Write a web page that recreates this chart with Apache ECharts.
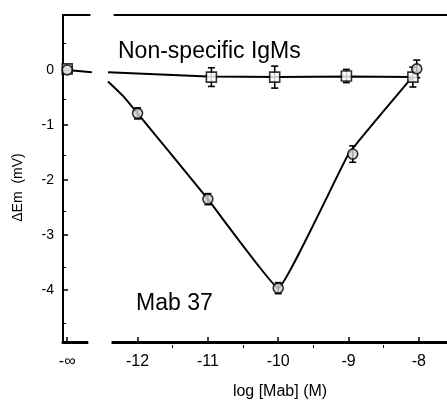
<!DOCTYPE html>
<html>
<head>
<meta charset="utf-8">
<script src="https://cdn.jsdelivr.net/npm/echarts@6/dist/echarts.min.js"></script>
<style>
  html, body { margin: 0; background: #fff; }
  #chart { width: 447px; height: 405px; }
</style>
</head>
<body>
<div id="chart"></div>
<script>
// -13 stands in for the "-∞" (no antibody) column
const NEG_INF = -13;

const xTicks = [-13, -12, -11, -10, -9, -8];
const xMinorTicks = [-11.5, -10.5, -9.5, -8.5];
const yTicks = [0, -1, -2, -3, -4];
const yMinorTicks = [0.5, -0.5, -1.5, -2.5, -3.5, -4.5];

// Mab 37 (circles)
const mabX = [-13, -12, -11, -10, -8.94, -8.03];
const mabY = [0, -0.79, -2.35, -3.97, -1.53, 0.02];
const mabErr = [0, 0.1, 0.1, 0.1, 0.15, 0.16];

// Non-specific IgMs (squares)
const nsX = [-13, -10.95, -10.05, -9.03, -8.085];
const nsY = [0.02, -0.13, -0.13, -0.11, -0.13];
const nsErr = [0, 0.17, 0.2, 0.12, 0.18];

// fitted curves as drawn in the figure (null = axis break)
const mabFitX = [-13, -12.65, null, -12.42, -12.2, -12, -11, -10, -9, -8.1];
const mabFitY = [0, -0.04, null, -0.21, -0.48, -0.79, -2.35, -3.97, -1.53, -0.14];
const nsFitX = [-12.42, -11, -10, -9, -8.1];
const nsFitY = [-0.04, -0.12, -0.13, -0.12, -0.13];

const FONT = "'Liberation Sans', Arial, Helvetica, sans-serif";

const pairs = (xs, ys) => xs.map((x, i) => (x === null ? '-' : [x, ys[i]]));
const triples = (xs, ys, es) =>
  xs.map((x, i) => [x, ys[i], es[i]]).filter((d) => d[2] > 0);

// vertical error bar with caps
function errRender(params, api) {
  const x = api.value(0), y = api.value(1), e = api.value(2);
  const top = api.coord([x, y + e]);
  const bot = api.coord([x, y - e]);
  const w = 3.5;
  const style = { stroke: '#000', lineWidth: 1.6 };
  return {
    type: 'group',
    children: [
      { type: 'line', shape: { x1: top[0], y1: top[1], x2: bot[0], y2: bot[1] }, style },
      { type: 'line', shape: { x1: top[0] - w, y1: top[1], x2: top[0] + w, y2: top[1] }, style },
      { type: 'line', shape: { x1: bot[0] - w, y1: bot[1], x2: bot[0] + w, y2: bot[1] }, style },
    ],
  };
}

const chart = echarts.init(document.getElementById('chart'));

const X_MIN = -13.06, X_MAX = -7.6;
const Y_MIN = -4.95, Y_MAX = 1;
const GRID = { left: 63, right: 0, top: 15, bottom: 57 };

chart.setOption({
  animation: false,
  backgroundColor: '#fff',
  // grid 1 sits exactly on grid 0 and only carries the minor ticks
  grid: [GRID, GRID],
  xAxis: [
    {
      type: 'value', gridIndex: 0, position: 'bottom', min: X_MIN, max: X_MAX,
      axisLine: { onZero: false, lineStyle: { color: '#000', width: 3 } },
      axisTick: { inside: true, length: 5, customValues: xTicks, lineStyle: { color: '#000', width: 1.5 } },
      axisLabel: {
        customValues: xTicks, margin: 12, color: '#000', fontSize: 16, fontFamily: FONT,
        formatter: (v) => (v === NEG_INF ? '-∞' : String(v)),
      },
      splitLine: { show: false },
      name: 'log [Mab] (M)', nameLocation: 'middle', nameGap: 42,
      nameTextStyle: { color: '#000', fontSize: 16, fontFamily: FONT, padding: [0, 0, 0, 50] },
    },
    {
      type: 'value', gridIndex: 0, position: 'top', min: X_MIN, max: X_MAX,
      axisLine: { onZero: false, lineStyle: { color: '#000', width: 2 } },
      axisTick: { show: false },
      axisLabel: { show: false },
      splitLine: { show: false },
    },
    {
      type: 'value', gridIndex: 1, position: 'bottom', min: X_MIN, max: X_MAX,
      axisLine: { show: false, onZero: false },
      axisTick: { inside: true, length: 3, customValues: xMinorTicks, lineStyle: { color: '#000', width: 1 } },
      axisLabel: { show: false },
      splitLine: { show: false },
    },
  ],
  yAxis: [
    {
      type: 'value', gridIndex: 0, position: 'left', min: Y_MIN, max: Y_MAX,
      axisLine: { show: true, onZero: false, lineStyle: { color: '#000', width: 2 } },
      axisTick: { show: true, inside: true, length: 5, customValues: yTicks, lineStyle: { color: '#000', width: 1.5 } },
      axisLabel: { customValues: yTicks, margin: 9, color: '#000', fontSize: 14, fontFamily: FONT },
      splitLine: { show: false },
      name: 'ΔEm  (mV)', nameLocation: 'middle', nameGap: 38, nameRotate: 90,
      nameTextStyle: { color: '#000', fontSize: 14, fontFamily: FONT, padding: [0, 18, 0, 0] },
    },
    {
      type: 'value', gridIndex: 1, position: 'left', min: Y_MIN, max: Y_MAX,
      axisLine: { show: false, onZero: false },
      axisTick: { show: true, inside: true, length: 3, customValues: yMinorTicks, lineStyle: { color: '#000', width: 1 } },
      axisLabel: { show: false },
      splitLine: { show: false },
    },
  ],
  series: [
    {
      name: 'Mab 37 fit', type: 'line', data: pairs(mabFitX, mabFitY),
      smooth: 0.08, showSymbol: false, connectNulls: false,
      lineStyle: { color: '#000', width: 2 }, z: 2,
    },
    {
      name: 'Non-specific fit', type: 'line', data: pairs(nsFitX, nsFitY),
      smooth: false, showSymbol: false,
      lineStyle: { color: '#000', width: 2 }, z: 2,
    },
    { type: 'custom', renderItem: errRender, data: triples(mabX, mabY, mabErr), z: 3 },
    { type: 'custom', renderItem: errRender, data: triples(nsX, nsY, nsErr), z: 3 },
    {
      name: 'Non-specific IgMs', type: 'scatter', data: pairs(nsX, nsY),
      symbol: 'rect', symbolSize: 10,
      itemStyle: { color: '#fff', borderColor: '#000', borderWidth: 1.6 }, z: 4,
    },
    {
      name: 'Mab 37', type: 'scatter', data: pairs(mabX, mabY),
      symbol: 'circle', symbolSize: 10,
      itemStyle: { color: '#d4d4d4', borderColor: '#000', borderWidth: 1.6 }, z: 5,
    },
    // empty series so grid 1 has a coordinate system of its own
    { type: 'scatter', xAxisIndex: 2, yAxisIndex: 1, data: [] },
  ],
});

// breaks in the bottom axis and top frame, plus the in-plot labels
const px = (v) => chart.convertToPixel({ xAxisIndex: 0 }, v);
const py = (v) => chart.convertToPixel({ yAxisIndex: 0 }, v);
const yb = py(Y_MIN), yt = py(Y_MAX);
chart.setOption({
  graphic: [
    { type: 'rect', shape: { x: px(-12.7), y: yb - 3, width: px(-12.37) - px(-12.7), height: 6 },
      style: { fill: '#fff' }, z: 100 },
    { type: 'rect', shape: { x: px(-12.67), y: yt - 3, width: px(-12.34) - px(-12.67), height: 6 },
      style: { fill: '#fff' }, z: 100 },
    { type: 'text', x: 118, y: 52, z: 100,
      style: { text: 'Non-specific IgMs', font: '23px ' + FONT, fill: '#000', verticalAlign: 'middle' } },
    { type: 'text', x: 136, y: 304, z: 100,
      style: { text: 'Mab 37', font: '23px ' + FONT, fill: '#000', verticalAlign: 'middle' } },
  ],
});
</script>
</body>
</html>
